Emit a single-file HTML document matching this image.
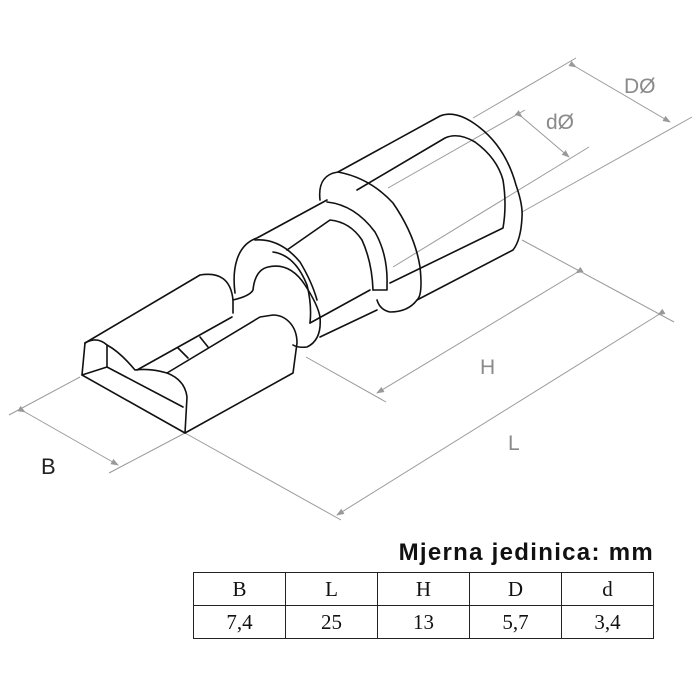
<!DOCTYPE html>
<html><head><meta charset="utf-8"><style>
html,body{margin:0;padding:0;background:#fff;}
.wrap{position:relative;width:700px;height:700px;overflow:hidden;}
svg{position:absolute;left:0;top:0;}
.t{position:absolute;font-family:"Liberation Sans",sans-serif;font-weight:bold;font-size:24px;letter-spacing:1.3px;color:#111;left:333px;top:539px;width:321px;text-align:right;white-space:nowrap;}
table{position:absolute;left:193px;top:572px;border-collapse:collapse;font-family:"Liberation Serif",serif;font-size:21px;color:#111;}
td{border:1.5px solid #222;width:91px;height:32px;text-align:center;padding:0;line-height:32px;}
</style></head><body><div class="wrap">
<svg width="700" height="700" viewBox="0 0 700 700">
<defs>
<marker id="a" markerWidth="8" markerHeight="8" refX="7" refY="4" orient="auto" markerUnits="userSpaceOnUse"><path d="M0,1 L8,4 L0,7 z" fill="#999"/></marker>
</defs>
<g stroke="#9a9a9a" stroke-width="1" fill="none">
<line x1="473" y1="118" x2="576" y2="58"/>
<line x1="522" y1="212" x2="692" y2="117"/>
<line x1="576" y1="67" x2="670" y2="122" marker-start="url(#a)" marker-end="url(#a)"/>
<line x1="388" y1="188" x2="525" y2="110"/>
<line x1="393" y1="267" x2="589" y2="147"/>
<line x1="522" y1="117" x2="569" y2="157" marker-start="url(#a)" marker-end="url(#a)"/>
<line x1="522" y1="240" x2="674" y2="322"/>
<line x1="306" y1="357" x2="386" y2="402"/>
<line x1="576" y1="273" x2="377" y2="393" marker-start="url(#a)" marker-end="url(#a)"/>
<line x1="185" y1="433" x2="341" y2="520"/>
<line x1="658" y1="315" x2="337" y2="515" marker-start="url(#a)" marker-end="url(#a)"/>
<line x1="80" y1="377" x2="9" y2="415"/>
<line x1="185" y1="433" x2="109" y2="473"/>
<line x1="25" y1="412" x2="118" y2="465" marker-start="url(#a)" marker-end="url(#a)"/>
</g>
<g stroke="#111" stroke-width="1.6" fill="none" stroke-linejoin="round" stroke-linecap="round">
<path d="M85,343 L82,375 L185,433 L293,373 L297,343 C297,325 285,315 273,315 L260,317 L167,373"/>
<path d="M82,375 L107,367 L183,407"/>
<path d="M107,345 L107,367"/>
<path d="M85,343 Q97,336 107,345 Q120,352 135,370 Q150,368 167,373 Q185,380 187,397 L185,433"/>
<path d="M85,343 L200,275 Q230,270 233,300 L233,313"/>
<path d="M137,370 L232,317"/>
<path d="M178,348 L188,358 M200,337 L208,347"/>
<path d="M233,300 Q250,296 253,290 Q255,270 268,267 Q290,262 305,285 Q318,305 320,317 Q322,340 307,347 Q298,348 293,345"/>
<path d="M235,293 C232,270 236,245 257,238 L327,200"/>
<path d="M255,240 Q280,238 300,262 Q312,282 317,300"/>
<path d="M273,252 Q295,255 307,285 Q312,305 310,323"/>
<path d="M320,337 L377,310"/>
<path d="M310,323 L370,290"/>
<path d="M287,250 L330,220 Q350,222 362,240 Q372,262 373,290"/>
<path d="M320,200 C318,182 325,174 338,172 Q370,178 393,203 Q415,235 420,267 Q423,295 417,300 Q408,312 390,312 Q380,310 377,300"/>
<path d="M327,202 Q355,205 375,232 Q388,255 387,285 L387,290 L373,290"/>
<path d="M338,172 L440,116 Q455,110 475,124 Q505,145 516,185 Q523,205 522,217 Q521,240 513,250 L417,300"/>
<path d="M357,190 L445,138 Q458,132 475,142 Q497,158 503,180 Q507,205 503,228 L390,283"/>
</g>
<g font-family="Liberation Sans,sans-serif" font-size="21" fill="#8a8a8a">
<text x="624" y="93">DØ</text>
<text x="546" y="129">dØ</text>
<text x="480" y="374">H</text>
<text x="508" y="450">L</text>
</g>
<text x="41" y="474" font-family="Liberation Sans,sans-serif" font-size="22" fill="#222">B</text>
</svg>
<div class="t">Mjerna jedinica: mm</div>
<table><tr><td>B</td><td>L</td><td>H</td><td>D</td><td>d</td></tr>
<tr><td>7,4</td><td>25</td><td>13</td><td>5,7</td><td>3,4</td></tr></table>
</div></body></html>
